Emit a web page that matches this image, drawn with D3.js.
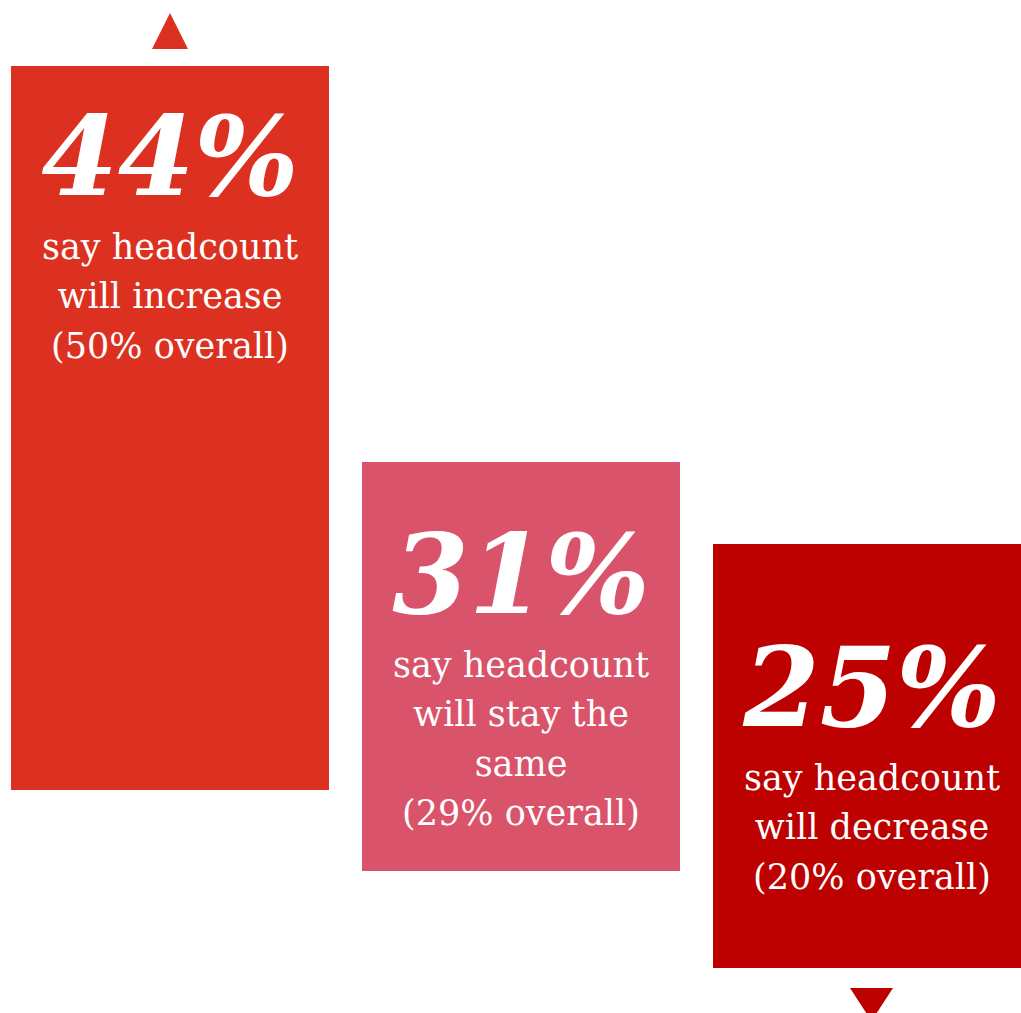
<!DOCTYPE html>
<html>
<head>
<meta charset="utf-8">
<script src="https://cdn.jsdelivr.net/npm/d3@7"></script>
<style>
  html, body { margin: 0; padding: 0; background: #ffffff; overflow: hidden; }
  svg { display: block; }
</style>
</head>
<body>
<svg id="chart" width="1021" height="1013"></svg>
<script>
// Survey outcome for expected headcount change
const categories = ["increase", "same", "decrease"];
const shareValues = [44, 31, 25];          // share of respondents, %
const overallValues = [50, 29, 20];        // overall share, %
const labelLines = [
  ["say headcount", "will increase"],
  ["say headcount", "will stay the", "same"],
  ["say headcount", "will decrease"]
];
const barColors = ["#dc3120", "#d9536b", "#bd0000"];

// Block layout: vertical span of each block and where its headline sits
const layout = {
  spanTop:    [66, 462, 544],
  spanBottom: [790, 871, 968],
  headlineBaseline: [195, 613, 726],
  lineGap: 49.5,
  firstLineGap: 63.5
};

const width = 1021, height = 1013;
const svg = d3.select("#chart");

const data = categories.map((c, i) => ({
  key: c,
  value: shareValues[i],
  overall: overallValues[i],
  lines: labelLines[i].concat([`(${overallValues[i]}% overall)`]),
  color: barColors[i],
  top: layout.spanTop[i],
  bottom: layout.spanBottom[i],
  base: layout.headlineBaseline[i]
}));

const x = d3.scaleBand()
  .domain(categories)
  .range([11, 1031])
  .paddingInner(33 / 351)
  .paddingOuter(0);

const y = d3.scaleLinear().domain([0, height]).range([0, height]);

const g = svg.selectAll("g.block")
  .data(data)
  .join("g")
  .attr("class", "block");

g.append("rect")
  .attr("x", d => x(d.key))
  .attr("y", d => y(d.top))
  .attr("width", x.bandwidth())
  .attr("height", d => y(d.bottom) - y(d.top))
  .attr("fill", d => d.color);

g.append("text")
  .attr("x", d => x(d.key) + x.bandwidth() / 2)
  .attr("y", d => y(d.base))
  .attr("text-anchor", "middle")
  .attr("fill", "#ffffff")
  .style("font-family", "'DejaVu Serif', serif")
  .style("font-weight", "bold")
  .style("font-style", "italic")
  .style("font-size", "110px")
  .text(d => `${d.value}%`);

g.each(function(d) {
  const t = d3.select(this).append("text")
    .attr("text-anchor", "middle")
    .attr("fill", "#ffffff")
    .style("font-family", "'DejaVu Serif', serif")
    .style("font-size", "35px");
  t.selectAll("tspan")
    .data(d.lines)
    .join("tspan")
    .attr("x", x(d.key) + x.bandwidth() / 2)
    .attr("y", (s, j) => y(d.base + layout.firstLineGap + j * layout.lineGap))
    .text(s => s);
});

// Direction markers above the rising block and below the falling block
const upX = x("increase") + x.bandwidth() / 2;
svg.append("path")
  .attr("d", d3.line()([[upX - 18, y(49)], [upX, y(13)], [upX + 18, y(49)]]) + "Z")
  .attr("fill", barColors[0]);

const downX = x("decrease") + x.bandwidth() / 2 - 0.5;
svg.append("path")
  .attr("d", d3.line()([[downX - 21.5, y(988)], [downX + 21.5, y(988)], [downX, y(1021)]]) + "Z")
  .attr("fill", barColors[2]);
</script>
</body>
</html>
